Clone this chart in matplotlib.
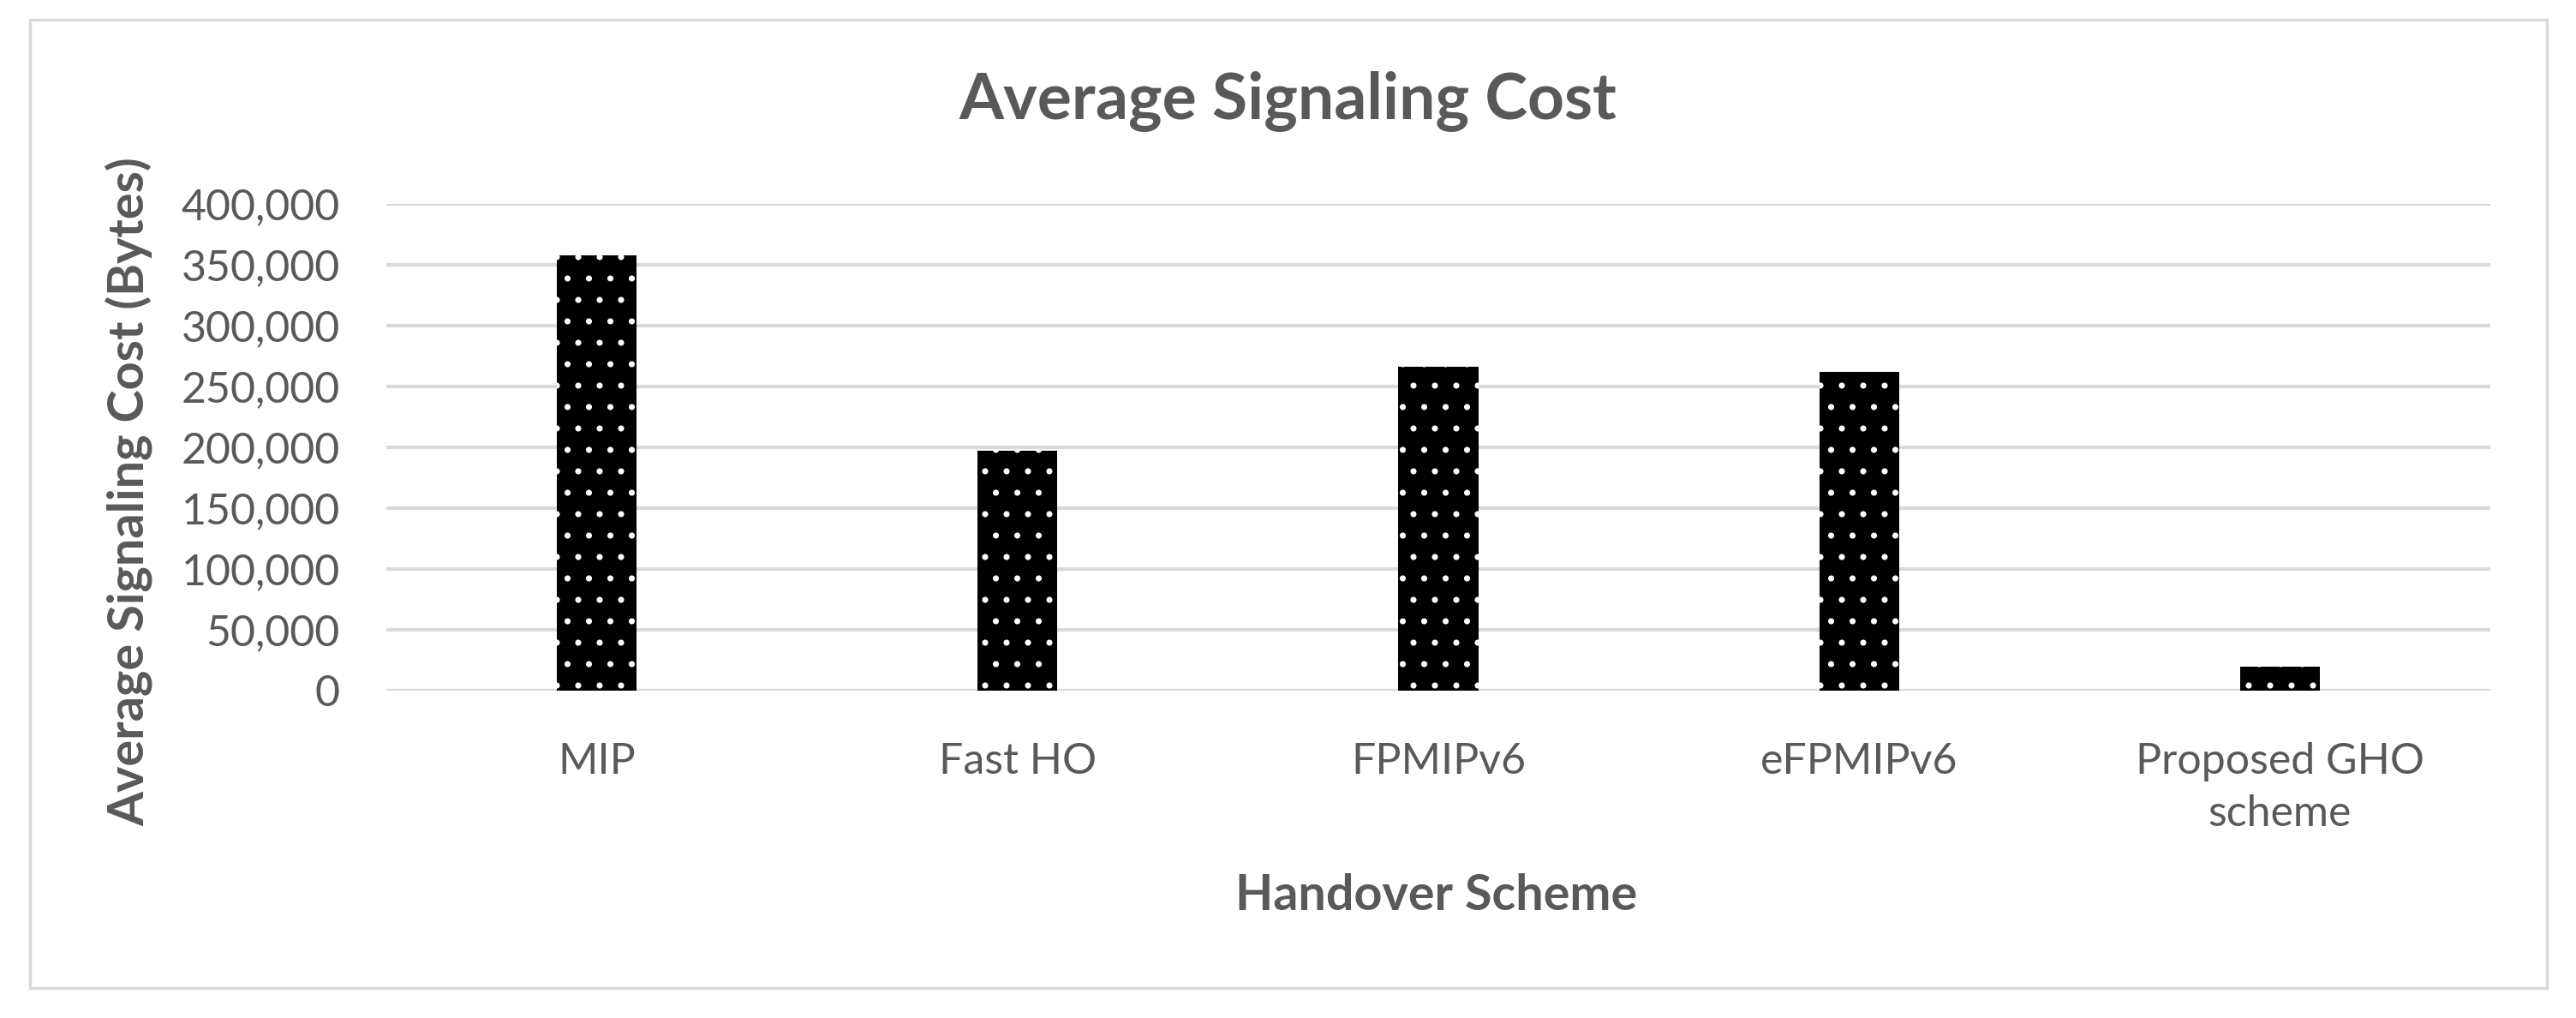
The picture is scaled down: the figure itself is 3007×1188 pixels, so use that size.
import numpy as np
import matplotlib.pyplot as plt
from matplotlib.patches import Rectangle
from matplotlib.ticker import FuncFormatter

schemes = ['MIP', 'Fast HO', 'FPMIPv6', 'eFPMIPv6', 'Proposed GHO\nscheme']
cost = [358000, 197000, 266000, 262000, 20000]
yticks = [0, 50000, 100000, 150000, 200000, 250000, 300000, 350000, 400000]

grey = '#595959'
plt.rcParams['font.family'] = ['Lato', 'DejaVu Sans']
plt.rcParams['hatch.linewidth'] = 1.0

dpi = 150
fig = plt.figure(figsize=(3007 / dpi, 1188 / dpi), dpi=dpi)

# outer chart border
fig.patches.append(Rectangle((35 / 3007, 1 - 1153 / 1188), (2973 - 35) / 3007, (1153 - 23) / 1188,
                             transform=fig.transFigure, fill=False, edgecolor='#D9D9D9', linewidth=1.6))

ax = fig.add_axes([451 / 3007, 1 - 806 / 1188, (2907 - 451) / 3007, (806 - 238) / 1188])
x = np.arange(len(schemes))
ax.bar(x, cost, width=0.19, color='black', edgecolor='white', linewidth=0, hatch='.', zorder=3)

ax.set_xlim(-0.5, len(schemes) - 0.5)
ax.set_ylim(0, 400000)
ax.set_yticks(yticks)
ax.yaxis.set_major_formatter(FuncFormatter(lambda v, p: f'{int(v):,}'))
ax.set_xticks(x)
ax.set_xticklabels(schemes, linespacing=1.4)
ax.tick_params(axis='both', length=0, labelsize=24, labelcolor=grey)
ax.tick_params(axis='x', pad=29)
ax.tick_params(axis='y', pad=26)
ax.grid(axis='y', color='#D9D9D9', linewidth=2.0, zorder=0)
ax.set_axisbelow(True)
for s in ax.spines.values():
    s.set_visible(False)

fig.text(0.5, 1 - 119 / 1188, 'Average Signaling Cost', ha='center', va='center',
         fontsize=36, fontweight='bold', color=grey)
fig.text(150 / 3007, 1 - 574 / 1188, 'Average Signaling Cost (Bytes)', ha='center', va='center',
         rotation=90, fontsize=27.7, fontweight='bold', color=grey)
fig.text(1677 / 3007, 1 - 1046 / 1188, 'Handover Scheme', ha='center', va='center',
         fontsize=27.6, fontweight='bold', color=grey)

fig.savefig('out.png', dpi=dpi)
